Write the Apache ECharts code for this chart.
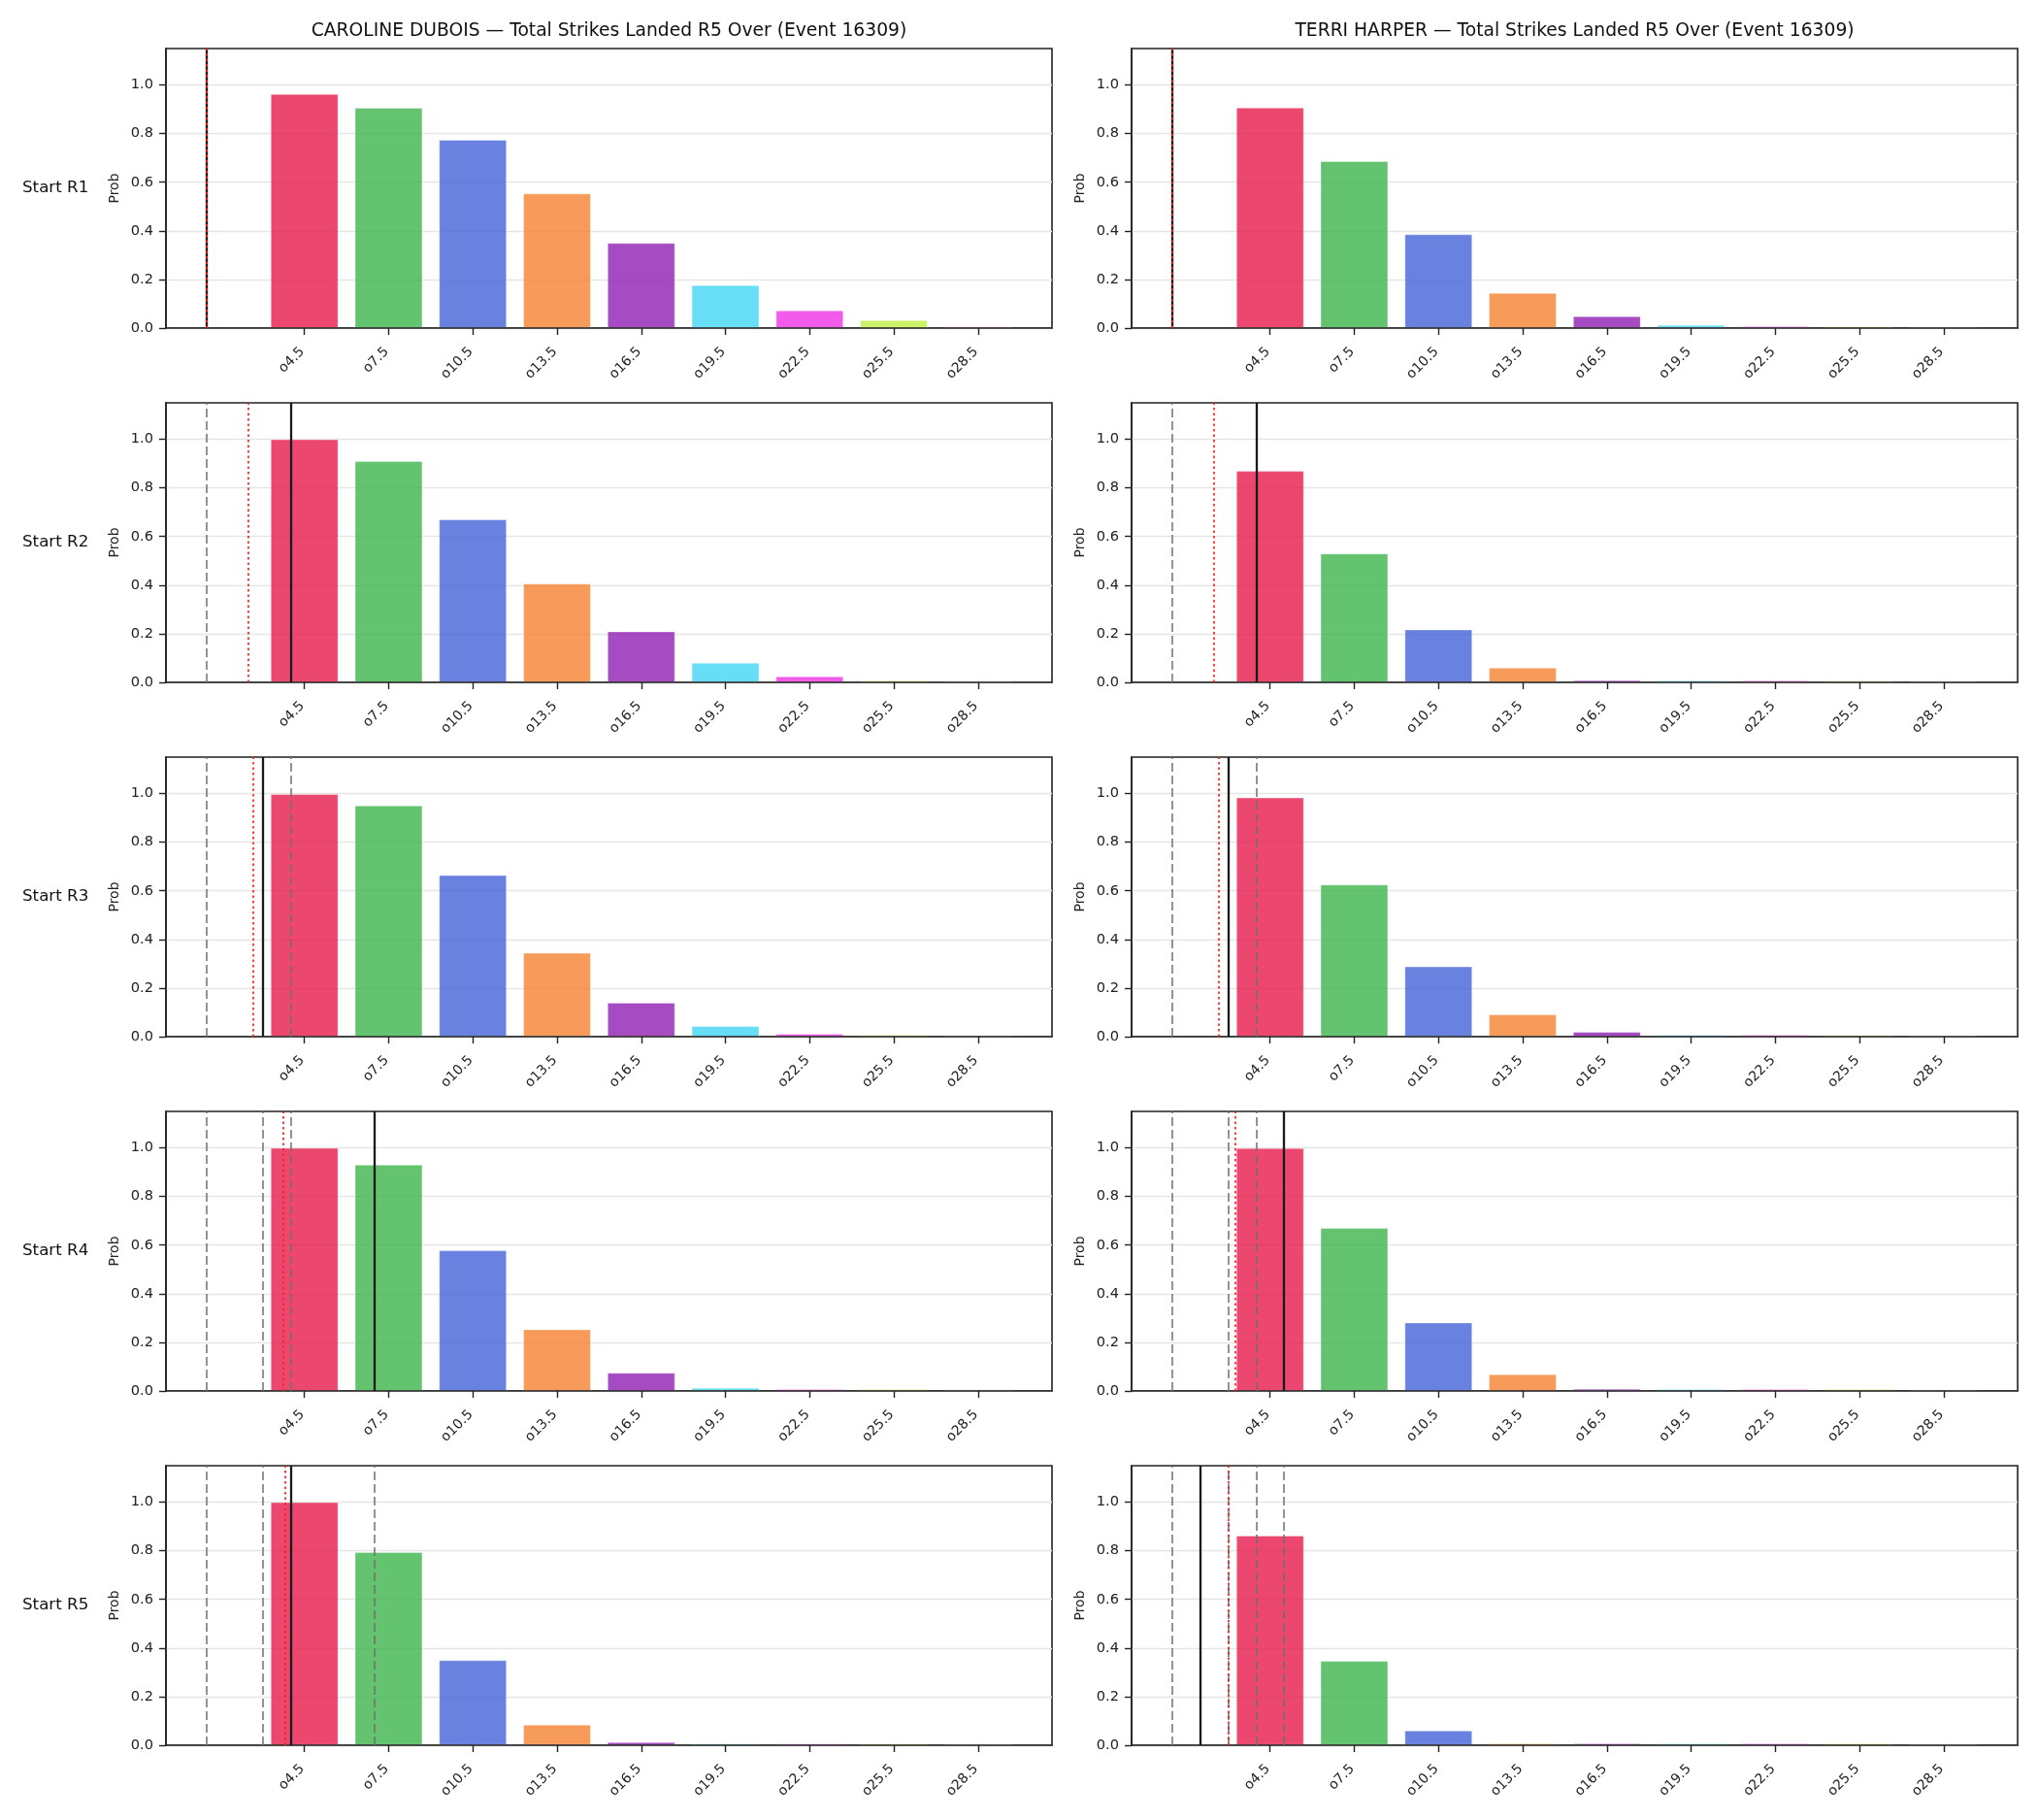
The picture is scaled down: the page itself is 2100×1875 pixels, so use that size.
<!DOCTYPE html>
<html>
<head>
<meta charset="utf-8">
<title>Total Strikes Landed R5 Over</title>
<script src="https://cdn.jsdelivr.net/npm/echarts@6/dist/echarts.min.js"></script>
<style>
  html, body { margin: 0; padding: 0; background: #fff; }
  #chart { width: 2100px; height: 1875px; }
</style>
</head>
<body>
<div id="chart"></div>
<script>
// lines offered, bar centres on the x axis, bar colours
var CATS = ['o4.5', 'o7.5', 'o10.5', 'o13.5', 'o16.5', 'o19.5', 'o22.5', 'o25.5', 'o28.5'];
var LINES = [4.5, 7.5, 10.5, 13.5, 16.5, 19.5, 22.5, 25.5, 28.5];
var COLORS = ['#e6194b', '#3cb44b', '#4363d8', '#f58231', '#911eb4', '#42d4f4', '#f032e6', '#bfef45', '#fabed4'];
var ROWS = ['Start R1', 'Start R2', 'Start R3', 'Start R4', 'Start R5'];
var YTICKS = [0, 0.2, 0.4, 0.6, 0.8, 1.0];
var TITLES = [
  'CAROLINE DUBOIS \u2014 Total Strikes Landed R5 Over (Event 16309)',
  'TERRI HARPER \u2014 Total Strikes Landed R5 Over (Event 16309)'
];

// Caroline Dubois, prob of over by start round
var duboisR1 = [0.962, 0.905, 0.774, 0.553, 0.349, 0.176, 0.072, 0.032, 0.007];
var duboisR2 = [0.999, 0.909, 0.670, 0.405, 0.209, 0.080, 0.024, 0.007, 0.006];
var duboisR3 = [0.997, 0.950, 0.664, 0.344, 0.139, 0.043, 0.011, 0.007, 0.006];
var duboisR4 = [0.999, 0.930, 0.578, 0.253, 0.074, 0.012, 0.007, 0.007, 0.006];
var duboisR5 = [0.999, 0.794, 0.349, 0.084, 0.012, 0.006, 0.006, 0.006, 0.005];

// Terri Harper
var harperR1 = [0.906, 0.686, 0.385, 0.144, 0.048, 0.012, 0.007, 0.006, 0.006];
var harperR2 = [0.869, 0.529, 0.217, 0.060, 0.008, 0.007, 0.007, 0.006, 0.005];
var harperR3 = [0.983, 0.625, 0.288, 0.091, 0.019, 0.007, 0.007, 0.006, 0.005];
var harperR4 = [0.998, 0.670, 0.281, 0.068, 0.008, 0.007, 0.007, 0.007, 0.005];
var harperR5 = [0.862, 0.346, 0.060, 0.007, 0.007, 0.007, 0.007, 0.007, 0.005];

// vertical markers: landed at each round start (black), running mean (red)
var duboisNow = [1, 4, 3, 7, 4];
var duboisAvg = [1.0, 2.5, 2.67, 3.75, 3.8];
var harperNow = [1, 4, 3, 5, 2];
var harperAvg = [1.0, 2.5, 2.67, 3.25, 3.0];

var fighters = [
  { rows: [duboisR1, duboisR2, duboisR3, duboisR4, duboisR5], now: duboisNow, avg: duboisAvg },
  { rows: [harperR1, harperR2, harperR3, harperR4, harperR5], now: harperNow, avg: harperAvg }
];

/* layout */
var X_MIN = -0.435, X_MAX = 31.135, Y_MAX = 1.15, BAR_UNITS = 2.4;
var GRID_LEFT = [171, 1166], GRID_W = 913, GRID_H = 288, GRID_TOP = 50, ROW_STEP = 365;
var INK = '#222';
var barPx = BAR_UNITS * GRID_W / (X_MAX - X_MIN);

var grids = [], xAxes = [], yAxes = [], series = [], graphics = [];

fighters.forEach(function (f, c) {
  graphics.push({
    type: 'text', x: GRID_LEFT[c] + GRID_W / 2, y: 32,
    style: { text: TITLES[c], fontSize: 18.7, fill: '#111', textAlign: 'center', textVerticalAlign: 'middle', fontFamily: 'DejaVu Sans' }
  });

  f.rows.forEach(function (vals, r) {
    var i = grids.length;
    var top = GRID_TOP + r * ROW_STEP;
    grids.push({ left: GRID_LEFT[c], top: top, width: GRID_W, height: GRID_H, show: true, borderColor: INK, borderWidth: 1.6, backgroundColor: 'transparent' });

    xAxes.push({
      type: 'value', gridIndex: i, min: X_MIN, max: X_MAX, z: 3,
      axisLine: { show: true, onZero: false, lineStyle: { color: INK, width: 1.6 } },
      axisTick: { show: true, length: 7, customValues: LINES, lineStyle: { color: INK, width: 1.4 } },
      axisLabel: {
        show: true, customValues: LINES, rotate: 45, fontSize: 14, color: '#222', margin: 20,
        padding: [0, 3, 0, 0],
        formatter: function (v) { var k = LINES.indexOf(v); return k >= 0 ? CATS[k] : ''; }
      },
      splitLine: { show: false }
    });

    yAxes.push({
      type: 'value', gridIndex: i, min: 0, max: Y_MAX, interval: 0.2,
      name: 'Prob', nameLocation: 'middle', nameGap: 46, nameRotate: 90,
      nameTextStyle: { fontSize: 14, color: '#222' },
      axisLine: { show: true, onZero: false, lineStyle: { color: INK, width: 1.6 } },
      axisTick: { show: true, length: 7, customValues: YTICKS, lineStyle: { color: INK, width: 1.4 } },
      axisLabel: { show: true, customValues: YTICKS, fontSize: 14.6, color: '#222', margin: 13,
        formatter: function (v) { return v.toFixed(1); } },
      splitLine: { show: true, lineStyle: { color: '#e5e5e5', width: 1.3 } }
    });

    // earlier round starts dashed grey, current start solid black, mean dotted red
    var marks = [];
    for (var g = 0; g < r; g++) {
      marks.push({ xAxis: f.now[g], lineStyle: { color: '#707070', type: [9, 4], width: 1.5 } });
    }
    marks.push({ xAxis: f.now[r], lineStyle: { color: '#1a1a1a', type: 'solid', width: 2.3 } });
    marks.push({ xAxis: f.avg[r], lineStyle: { color: 'rgba(255,30,30,0.85)', type: [2.5, 3], width: 2 } });

    series.push({
      type: 'bar', xAxisIndex: i, yAxisIndex: i, barWidth: barPx,
      data: vals.map(function (v, j) {
        return { value: [LINES[j], v], itemStyle: { color: COLORS[j] } };
      }),
      itemStyle: { opacity: 0.8, borderColor: 'rgba(255,255,255,0.9)', borderWidth: 0.5 },
      markLine: {
        silent: true, symbol: ['none', 'none'], label: { show: false }, animation: false,
        data: marks
      },
      animation: false
    });

    if (c === 0) {
      graphics.push({
        type: 'text', x: 23, y: top + GRID_H / 2,
        style: { text: ROWS[r], fontSize: 16.7, fill: '#111', textAlign: 'left', textVerticalAlign: 'middle', fontFamily: 'DejaVu Sans' }
      });
    }
  });
});

var chart = echarts.init(document.getElementById('chart'), null, { renderer: 'canvas' });
chart.setOption({
  backgroundColor: '#fff',
  animation: false,
  textStyle: { fontFamily: 'DejaVu Sans' },
  grid: grids,
  xAxis: xAxes,
  yAxis: yAxes,
  series: series,
  graphic: graphics
});
</script>
</body>
</html>
